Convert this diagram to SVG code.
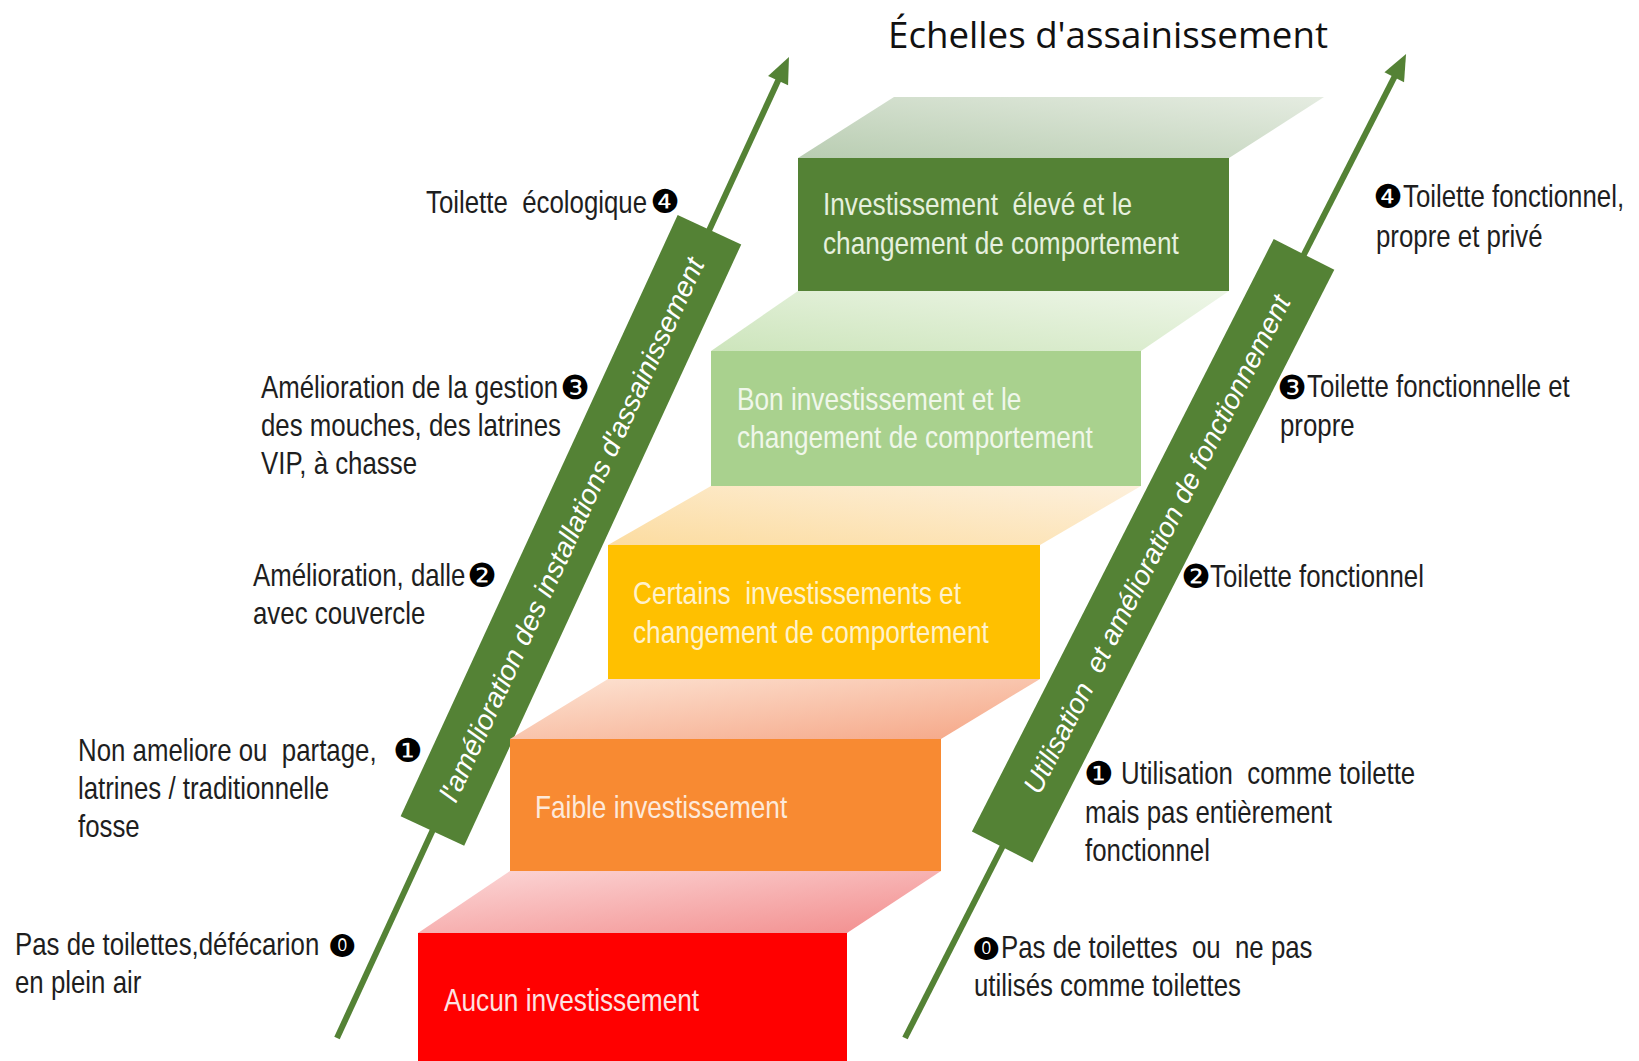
<svg xmlns="http://www.w3.org/2000/svg" width="1639" height="1061" viewBox="0 0 1639 1061">
<style>
.lbl{font-family:"Liberation Sans",Arial,sans-serif;font-size:31.5px;fill:#1e1e1e;white-space:pre}
.box{font-family:"Liberation Sans",Arial,sans-serif;font-size:32px;white-space:pre}
.ban{font-family:"Liberation Sans",Arial,sans-serif;font-style:italic;font-size:28px;fill:#ffffff;white-space:pre;text-anchor:middle}
.num{font-family:"DejaVu Sans","Noto Sans",sans-serif;font-size:33px;fill:#000;text-anchor:middle}
.num0{font-family:"DejaVu Sans","Noto Sans",sans-serif;font-size:24px;fill:#000;text-anchor:middle}
.title{font-family:"Open Sans","Noto Sans",sans-serif;font-size:36px;fill:#111}
.arrow{stroke:#548235;stroke-width:6;fill:none}
.banner{fill:#548235}
</style>
<defs>
<marker id="ah" markerUnits="userSpaceOnUse" markerWidth="30" markerHeight="30" viewBox="0 -15 30 30" refX="0" refY="0" orient="auto" overflow="visible">
<path d="M-1,-11 L25,0 L-1,11 Z" fill="#548235"/>
</marker>
<linearGradient id="gTop" x1="0" y1="1" x2="1" y2="0"><stop offset="0" stop-color="#b9cdb2"/><stop offset="1" stop-color="#e5ece1"/></linearGradient>
<linearGradient id="gLg" x1="0" y1="1" x2="1" y2="0"><stop offset="0" stop-color="#cde5bc"/><stop offset="1" stop-color="#eef6e8"/></linearGradient>
<linearGradient id="gYel" x1="0" y1="1" x2="1" y2="0"><stop offset="0" stop-color="#fcdca0"/><stop offset="1" stop-color="#fdf0dc"/></linearGradient>
<linearGradient id="gPeach" x1="0" y1="0" x2="1" y2="1"><stop offset="0" stop-color="#fde4d4"/><stop offset="1" stop-color="#f5a585"/></linearGradient>
<linearGradient id="gPink" x1="0" y1="0" x2="1" y2="1"><stop offset="0" stop-color="#fcd8d8"/><stop offset="1" stop-color="#f28c8c"/></linearGradient>
</defs>
<rect width="1639" height="1061" fill="#ffffff"/>

<text id="title" class="title" x="888" y="48" textLength="440" lengthAdjust="spacingAndGlyphs">Échelles d'assainissement</text>

<g id="connectors">
<line class="arrow" x1="337" y1="1038" x2="778.5" y2="79.7" marker-end="url(#ah)"/>
<line class="arrow" x1="905" y1="1038" x2="1394.7" y2="76.3" marker-end="url(#ah)"/>
</g>

<g id="banner-left" transform="translate(432.4,831) rotate(-65.26)">
<rect class="banner" x="0" y="-35" width="662" height="70"/>
<text class="ban" x="332" y="10" textLength="595" lengthAdjust="spacingAndGlyphs">l'amélioration des installations d'assainissement</text>
</g>
<g id="banner-right" transform="translate(1002.2,847) rotate(-63.01)">
<rect class="banner" x="0" y="-34" width="665" height="68"/>
<text class="ban" x="340" y="10" textLength="555" lengthAdjust="spacingAndGlyphs">Utilisation  et amélioration de fonctionnement</text>
</g>

<g id="step0">
<polygon points="510,871 941,871 847,933 418,933" fill="url(#gPink)"/>
<rect x="418" y="933" width="429" height="128" fill="#ff0000"/>
<text class="box" fill="#fde2e2" transform="translate(444,1011) scale(0.82,1)">Aucun investissement</text>
</g>
<g id="step1">
<polygon points="608,679 1040,679 941,739 510,739" fill="url(#gPeach)"/>
<rect x="510" y="739" width="431" height="132" fill="#f88a32"/>
<text class="box" fill="#fde9da" transform="translate(535,818) scale(0.82,1)">Faible investissement</text>
</g>
<g id="step2">
<polygon points="711,486 1141,486 1040,545 608,545" fill="url(#gYel)"/>
<rect x="608" y="545" width="432" height="134" fill="#ffc000"/>
<text class="box" fill="#fff2cc" transform="translate(633,604) scale(0.82,1)">Certains  investissements et</text>
<text class="box" fill="#fff2cc" transform="translate(633,643) scale(0.82,1)">changement de comportement</text>
</g>
<g id="step3">
<polygon points="798,291 1229,291 1141,351 711,351" fill="url(#gLg)"/>
<rect x="711" y="351" width="430" height="135" fill="#a9d18e"/>
<text class="box" fill="#f0f7ea" transform="translate(737,410) scale(0.82,1)">Bon investissement et le</text>
<text class="box" fill="#f0f7ea" transform="translate(737,448) scale(0.82,1)">changement de comportement</text>
</g>
<g id="step4">
<polygon points="894,97 1324,97 1229,158 798,158" fill="url(#gTop)"/>
<rect x="798" y="158" width="431" height="133" fill="#548235"/>
<text class="box" fill="#e6f0de" transform="translate(823,215) scale(0.82,1)">Investissement  élevé et le</text>
<text class="box" fill="#e6f0de" transform="translate(823,254) scale(0.82,1)">changement de comportement</text>
</g>

<g id="left-4">
<text class="lbl" transform="translate(426,213) scale(0.82,1)">Toilette  écologique</text>
<text class="num" x="665" y="212.5">❹</text>
</g>
<g id="left-3">
<text class="lbl" transform="translate(261,398) scale(0.82,1)">Amélioration de la gestion</text>
<text class="lbl" transform="translate(261,436) scale(0.82,1)">des mouches, des latrines</text>
<text class="lbl" transform="translate(261,474) scale(0.82,1)">VIP, à chasse</text>
<text class="num" x="575" y="398.5">❸</text>
</g>
<g id="left-2">
<text class="lbl" transform="translate(253,586) scale(0.82,1)">Amélioration, dalle</text>
<text class="lbl" transform="translate(253,624) scale(0.82,1)">avec couvercle</text>
<text class="num" x="482" y="586.5">❷</text>
</g>
<g id="left-1">
<text class="lbl" transform="translate(78,761) scale(0.82,1)">Non ameliore ou  partage,</text>
<text class="lbl" transform="translate(78,799) scale(0.82,1)">latrines / traditionnelle</text>
<text class="lbl" transform="translate(78,837) scale(0.82,1)">fosse</text>
<text class="num" x="408" y="761.5">❶</text>
</g>
<g id="left-0">
<text class="lbl" transform="translate(15,955) scale(0.82,1)">Pas de toilettes,défécarion</text>
<text class="lbl" transform="translate(15,993) scale(0.82,1)">en plein air</text>
<text class="num0" x="342" y="950.5">⓿</text>
</g>

<g id="right-4">
<text class="num" x="1388" y="207.5">❹</text>
<text class="lbl" transform="translate(1403,207) scale(0.82,1)">Toilette fonctionnel,</text>
<text class="lbl" transform="translate(1376,247) scale(0.82,1)">propre et privé</text>
</g>
<g id="right-3">
<text class="num" x="1292" y="398.5">❸</text>
<text class="lbl" transform="translate(1307,397) scale(0.82,1)">Toilette fonctionnelle et</text>
<text class="lbl" transform="translate(1280,436) scale(0.82,1)">propre</text>
</g>
<g id="right-2">
<text class="num" x="1196" y="587.5">❷</text>
<text class="lbl" transform="translate(1210,587) scale(0.82,1)">Toilette fonctionnel</text>
</g>
<g id="right-1">
<text class="num" x="1099" y="784.5">❶</text>
<text class="lbl" transform="translate(1121,784) scale(0.82,1)">Utilisation  comme toilette</text>
<text class="lbl" transform="translate(1085,823) scale(0.82,1)">mais pas entièrement</text>
<text class="lbl" transform="translate(1085,861) scale(0.82,1)">fonctionnel</text>
</g>
<g id="right-0">
<text class="num0" x="986" y="953.5">⓿</text>
<text class="lbl" transform="translate(1001,958) scale(0.82,1)">Pas de toilettes  ou  ne pas</text>
<text class="lbl" transform="translate(974,996) scale(0.82,1)">utilisés comme toilettes</text>
</g>
</svg>
